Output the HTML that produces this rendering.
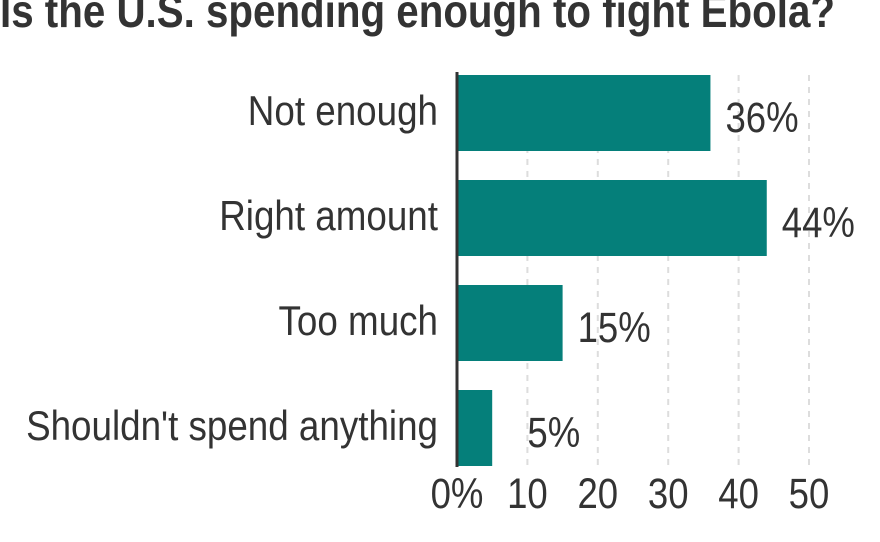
<!DOCTYPE html>
<html><head><meta charset="utf-8"><style>
body{margin:0;background:#fff;}
svg{display:block;font-family:"Liberation Sans",sans-serif;}
</style></head><body>
<svg width="880" height="542">
<text x="0" y="27" font-size="46" font-weight="bold" fill="#333" textLength="835" lengthAdjust="spacingAndGlyphs">Is the U.S. spending enough to fight Ebola?</text>
<g id="grid"></g><g id="bars"></g><g id="labels"></g><g id="ticks"></g>
<line x1="457" y1="72" x2="457" y2="467" stroke="#333" stroke-width="3"/>
</svg>
<script>
const categories=["Not enough","Right amount","Too much","Shouldn't spend anything"];
const values=[36,44,15,5];
const ticks=[0,10,20,30,40,50];
const tickLabels=["0%","10","20","30","40","50"];
const NS="http://www.w3.org/2000/svg";
const x0=457,k=7.04,yTop=75,band=105,bh=76,sx=0.85,sxl=0.876;
const xs=v=>x0+v*k;
function mk(t,a,p){const e=document.createElementNS(NS,t);for(const n in a)e.setAttribute(n,a[n]);p.appendChild(e);return e;}
const grid=document.getElementById('grid'),bars=document.getElementById('bars'),labels=document.getElementById('labels'),tk=document.getElementById('ticks');
ticks.forEach((t,i)=>{
 if(t>0){const l=mk('line',{x1:xs(t),x2:xs(t),y1:75,y2:467,stroke:'#ddd','stroke-width':2,'stroke-dasharray':'6,6'},grid);
 
 }
 const tx=mk('text',{transform:`translate(${xs(t)},508) scale(${sx},1)`,'text-anchor':'middle','font-size':43,fill:'#333'},tk);
 tx.textContent=tickLabels[i];
 
 
});
categories.forEach((c,i)=>{
 const y=yTop+i*band,cy=y+bh/2;
 const r=mk('rect',{x:x0,y:y,width:xs(values[i])-x0,height:bh,fill:'#057f7a'},bars);
 
 
 const t=mk('text',{transform:`translate(438,${cy+12}) scale(${sxl},1)`,'text-anchor':'end','font-size':42,fill:'#333'},labels);
 t.textContent=c;
 
 
 const vx=Math.max(xs(values[i])+15,xs(10));
 const v=mk('text',{transform:`translate(${vx},${cy+19}) scale(${sx},1)`,'font-size':43,fill:'#333'},labels);
 v.textContent=values[i]+'%';
 
 
});
</script>
</body></html>
